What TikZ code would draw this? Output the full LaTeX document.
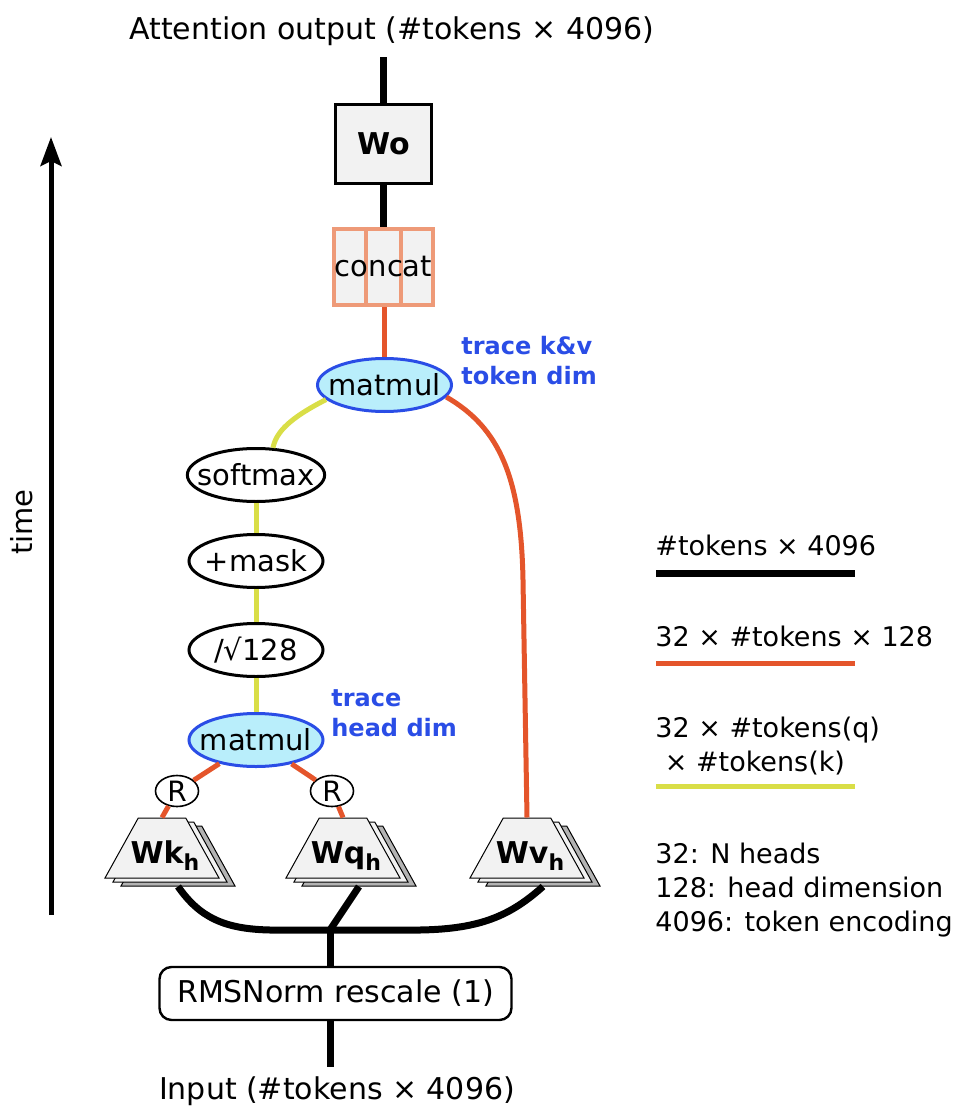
\documentclass[tikz,border=0pt]{standalone}
\usepackage{fontspec}
\setmainfont{DejaVu Sans}
\usetikzlibrary{shapes.geometric,arrows.meta,calc}

\definecolor{kvorange}{HTML}{E4552B}
\definecolor{scoreyellow}{HTML}{D9DE47}
\definecolor{catsalmon}{HTML}{EE9A78}
\definecolor{traceblue}{HTML}{2A4DE6}
\definecolor{mmcyan}{HTML}{B9EEFB}
\definecolor{boxfill}{HTML}{F2F2F2}
\definecolor{backgray}{HTML}{B3B3B3}

\tikzset{
	wire/.style={line width=3.5pt},
	headwire/.style={line width=2.5pt,draw=kvorange},
	scorewire/.style={line width=2.5pt,draw=scoreyellow},
	op/.style={ellipse,draw,line width=1.5pt,fill=white,minimum width=67pt,minimum height=26.5pt,inner xsep=-5pt,inner ysep=0pt,font=\fontsize{14.5}{17}\selectfont},
	mm/.style={op,draw=traceblue,fill=mmcyan},
	rope/.style={ellipse,draw,line width=0.8pt,fill=white,minimum width=21.5pt,minimum height=15.5pt,inner sep=0pt,font=\fontsize{14}{16}\selectfont},
	weight/.style={trapezium,trapezium angle=61,trapezium stretches body=true,minimum width=57pt,minimum height=30pt,inner xsep=0pt,inner ysep=15pt,draw,line width=0.5pt,fill=boxfill},
	wlabel/.style={anchor=base,inner sep=0pt,font=\bfseries\fontsize{15}{17}\selectfont},
	tracenote/.style={anchor=west,align=left,text=traceblue,inner sep=0pt,font=\bfseries\fontsize{12}{15}\selectfont},
	legend/.style={anchor=west,align=left,inner sep=0pt,font=\fontsize{13.5}{17}\selectfont},
	plain/.style={inner sep=0pt,font=\fontsize{15}{18}\selectfont}
}

\begin{document}
\begin{tikzpicture}[x=0.5pt,y=-0.5pt]
	\useasboundingbox (0,0) rectangle (960,1112);

	%OUTPUT SIDE
	\node[plain] (attn) at (392,31) {Attention output (\#tokens × 4096)};
	\coordinate (outtop) at (383.5,57);
	\node[draw,line width=1.5pt,fill=boxfill,minimum width=48pt,minimum height=39.5pt,font=\bfseries\fontsize{15}{17}\selectfont] (wo) at (383.5,144) {Wo};
	\node[draw=catsalmon,line width=2pt,fill=boxfill,minimum width=49.5pt,minimum height=38pt,inner sep=0pt] (cc) at (383.5,267) {};
	\draw[catsalmon,line width=2pt] ($(cc.north west)!1/3!(cc.north east)$) -- ($(cc.south west)!1/3!(cc.south east)$);
	\draw[catsalmon,line width=2pt] ($(cc.north west)!2/3!(cc.north east)$) -- ($(cc.south west)!2/3!(cc.south east)$);
	\node[plain,font=\fontsize{14.5}{17}\selectfont] (cctext) at (cc) {concat};

	%ATTENTION OPS
	\node[mm] (mm1) at (384.5,385) {matmul};
	\node[tracenote] (kvnote) at (461,361) {trace k\&v\\token dim};
	\node[op] (sm) at (256,475) {softmax};
	\node[op] (mask) at (256,561) {+mask};
	\node[op] (scale) at (256,650) {/√128};
	\node[mm] (mm2) at (256,740) {matmul};
	\node[tracenote] (hdnote) at (331,713) {trace\\head dim};
	\node[rope] (r1) at (177,791) {R};
	\node[rope] (r2) at (332,791) {R};

	%HEAD WEIGHTS
	\node[weight,fill=backgray] (wkb) at (178,856) {};
	\node[weight] (wkm) at (170,852) {};
	\node[weight] (wk) at (162,848) {};
	\node[wlabel] (wktext) at ([xshift=1.5pt,yshift=-7.5pt]wk.center) {Wk\raisebox{-3.5pt}{\fontsize{11}{11}\selectfont h}};
	\node[weight,fill=backgray] (wqb) at (359,856) {};
	\node[weight] (wqm) at (351,852) {};
	\node[weight] (wq) at (343,848) {};
	\node[wlabel] (wqtext) at ([xshift=1.5pt,yshift=-7.5pt]wq.center) {Wq\raisebox{-3.5pt}{\fontsize{11}{11}\selectfont h}};
	\node[weight,fill=backgray] (wvb) at (543,856) {};
	\node[weight] (wvm) at (535,852) {};
	\node[weight] (wv) at (527,848) {};
	\node[wlabel] (wvtext) at ([xshift=1.5pt,yshift=-7.5pt]wv.center) {Wv\raisebox{-3.5pt}{\fontsize{11}{11}\selectfont h}};

	%INPUT SIDE
	\coordinate (jn) at (330,930);
	\node[draw,rounded corners=6pt,line width=1.2pt,minimum width=176pt,minimum height=26.5pt,font=\fontsize{15}{18}\selectfont] (rms) at (335.5,993.5) {RMSNorm rescale (1)};
	\coordinate (intop) at (330,1067);
	\node[plain] (inp) at (337,1091) {Input (\#tokens × 4096)};

	%BLACK WIRES
	\draw[wire] (wo.north) -- (outtop);
	\draw[wire] (cc.north) -- (wo.south);
	\draw[wire] (wkb.bottom side) .. controls (200,918) and (225,929) .. (270,930) -- (jn);
	\draw[wire] (wvb.bottom side) .. controls (510,916) and (480,929) .. (420,930) -- (jn);
	\draw[wire] (wqb.bottom side) -- (jn);
	\draw[wire] (jn) -- (jn |- rms.north);
	\draw[wire] (jn |- rms.south) -- (intop);

	%HEAD WIRES
	\draw[headwire] (mm1.north) -- (mm1.north |- cc.south);
	\draw[headwire] (mm1.-11) .. controls (500,428) and (521,478) .. (523,580) -- (wv.top side);
	\draw[headwire] (mm2) -- (r1);
	\draw[headwire] (mm2) -- (r2);
	\draw[headwire] (r1) -- (wk.top side);
	\draw[headwire] (r2) -- (wq.top side);

	%SCORE WIRES
	\draw[scorewire] (mm1.194) .. controls (290,418) and (276,432) .. (sm.58);
	\draw[scorewire] (sm) -- (mask);
	\draw[scorewire] (mask) -- (scale);
	\draw[scorewire] (scale) -- (mm2);

	%TIME
	\coordinate (tlow) at (51,915);
	\coordinate (thigh) at (51,137);
	\draw[line width=2.5pt,-{Stealth[length=14.5pt,width=10.5pt,inset=2.5pt]}] (tlow) -- (thigh);
	\node[plain,rotate=90,font=\fontsize{14.5}{17}\selectfont] (time) at (22,522) {time};

	%LEGEND
	\node[legend] (lg1) at (655,545) {\#tokens × 4096};
	\draw[wire] (656,573) -- (855,573);
	\node[legend] (lg2) at (655,636) {32 × \#tokens × 128};
	\draw[headwire] (656,663) -- (855,663);
	\node[legend] (lg3) at (655,746) {32 × \#tokens(q)\\\hspace*{0.35em}× \#tokens(k)};
	\draw[scorewire] (656,786) -- (855,786);
	\node[legend] (lg4) at (655,890) {32: N heads\\128: head dimension\\4096: token encoding};
\end{tikzpicture}
\end{document}
